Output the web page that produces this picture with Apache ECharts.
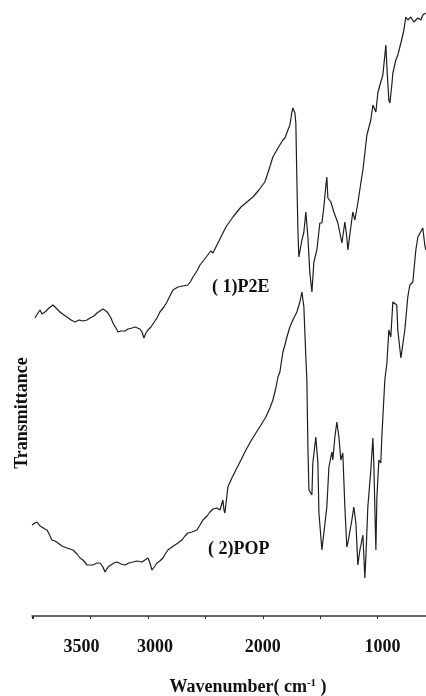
<!DOCTYPE html>
<html>
<head>
<meta charset="utf-8">
<script src="https://cdn.jsdelivr.net/npm/echarts@6/dist/echarts.min.js"></script>
<style>
html,body{margin:0;padding:0;background:#fff;overflow:hidden;}
#chart{width:426px;height:696px;}
</style>
</head>
<body>
<div id="chart"></div>
<script>
// Wavenumber axis tick labels (cm-1)
const tickLabels = [3500, 3000, 2000, 1000];

// (1) P2E spectrum: wavenumber (cm-1) and transmittance (a.u.)
const p2eWavenumber = [3984,3958,3940,3923,3897,3862,3827,3792,3766,3731,3705,3670,3636,3601,3566,3531,3505,3470,3444,3418,3392,3366,3348,3322,3305,3279,3261,3235,3200,3174,3139,3113,3096,3070,3052,3035,3018,3000,2974,2957,2922,2896,2861,2835,2809,2782,2739,2696,2652,2626,2608,2574,2547,2513,2486,2452,2434,2408,2365,2321,2260,2190,2138,2086,2034,1982,1947,1912,1868,1825,1807,1781,1764,1746,1738,1720,1712,1703,1694,1686,1659,1642,1625,1607,1590,1572,1555,1529,1503,1485,1468,1450,1442,1433,1407,1381,1346,1311,1285,1268,1259,1233,1216,1198,1172,1146,1128,1093,1059,1041,1015,998,980,954,928,919,902,893,876,867,841,824,797,771,754,737,711,684,649,623,606,580];
const p2eTransmittance = [298,303,306,302,304,308,311,307,304,301,299,296,294,296,295,296,298,300,303,305,307,305,303,298,293,288,284,285,285,287,288,289,290,287,284,278,283,286,289,291,298,304,309,314,320,326,329,330,331,335,339,345,351,356,360,365,363,369,379,389,399,409,414,419,426,434,446,459,468,476,478,486,491,504,508,503,493,436,386,359,376,384,404,379,343,324,354,366,393,393,409,431,439,418,414,404,393,373,394,379,366,389,404,396,413,433,446,481,496,511,504,523,531,541,571,549,516,513,531,543,556,561,573,586,599,596,599,594,598,596,601,603];

// (2) POP spectrum: wavenumber (cm-1) and transmittance (a.u.)
const popWavenumber = [4010,3984,3966,3940,3923,3897,3879,3853,3836,3810,3784,3749,3705,3679,3653,3618,3592,3566,3531,3505,3479,3444,3418,3392,3374,3348,3331,3296,3270,3235,3200,3166,3131,3096,3052,3026,3000,2983,2965,2939,2922,2896,2870,2844,2826,2791,2765,2739,2704,2678,2652,2617,2574,2547,2521,2486,2460,2434,2399,2373,2365,2347,2338,2330,2312,2304,2269,2234,2190,2147,2103,2060,2016,1973,1938,1912,1886,1868,1851,1825,1807,1790,1764,1738,1703,1677,1659,1642,1625,1616,1607,1598,1572,1564,1538,1520,1511,1485,1477,1442,1424,1398,1390,1372,1355,1337,1320,1303,1285,1268,1259,1224,1207,1189,1172,1154,1128,1111,1102,1085,1059,1041,1033,1015,1006,989,972,963,937,919,902,885,867,833,824,797,780,763,737,719,693,667,649,632,606,589,580];
const popTransmittance = [91,93,94,90,88,87,86,80,76,75,73,70,68,67,66,62,58,56,51,51,51,53,53,49,44,49,51,53,54,52,51,53,54,55,54,56,58,53,46,50,53,55,58,63,66,69,71,73,76,80,83,84,86,91,96,100,104,107,108,106,108,116,106,103,121,129,138,146,156,166,175,183,191,199,208,216,228,239,244,264,271,279,289,296,304,314,324,309,259,236,169,126,121,153,179,153,103,66,74,109,149,164,156,179,194,179,156,163,109,69,73,96,109,93,51,66,81,38,59,109,146,178,153,66,119,156,153,179,236,253,286,279,314,311,286,258,258,286,319,331,334,366,379,380,388,371,366];

const seriesLabels = ['( 1)P2E', '( 2)POP'];

function pairs(xs, ys) { return xs.map((x, i) => [x, ys[i]]); }

const serif = '"Liberation Serif", "DejaVu Serif", serif';
const chart = echarts.init(document.getElementById('chart'), null, {renderer: 'canvas'});

const labelRich = {
  l: {fontFamily: serif, fontWeight: 'bold', fontSize: 18, color: '#111', padding: [0, 18, 0, 0]},
  r: {fontFamily: serif, fontWeight: 'bold', fontSize: 18, color: '#111', padding: [0, 0, 0, 14]},
  c: {fontFamily: serif, fontWeight: 'bold', fontSize: 18, color: '#111'},
  q: {fontFamily: serif, fontWeight: 'bold', fontSize: 18, color: '#111', padding: [0, 0, 0, 10]}
};
const labelStyleKey = {3500: 'l', 3000: 'r', 2000: 'c', 1000: 'q'};

chart.setOption({
  animation: false,
  backgroundColor: '#fff',
  grid: {left: 32, width: 403, top: 0, bottom: 80, containLabel: false, outerBoundsMode: 'none'},
  xAxis: {
    type: 'value', min: 500, max: 4010, interval: 500, inverse: true,
    splitLine: {show: false},
    axisLine: {show: true, lineStyle: {color: '#333', width: 1.5}},
    axisTick: {show: true, inside: false, length: 3, lineStyle: {color: '#333', width: 1}},
    axisLabel: {
      margin: 22,
      formatter: v => tickLabels.includes(v) ? '{' + labelStyleKey[v] + '|' + v + '}' : '',
      rich: labelRich
    }
  },
  yAxis: {type: 'value', min: 0, max: 616, show: false},
  series: [
    {type: 'line', name: seriesLabels[0], data: pairs(p2eWavenumber, p2eTransmittance),
     showSymbol: false, lineStyle: {color: '#1e1e1e', width: 1.2}, silent: true},
    {type: 'line', name: seriesLabels[1], data: pairs(popWavenumber, popTransmittance),
     showSymbol: false, lineStyle: {color: '#1e1e1e', width: 1.2}, silent: true}
  ],
  graphic: [
    {type: 'text', left: 212, top: 278, style: {text: seriesLabels[0], font: 'bold 18px ' + serif, fill: '#111'}},
    {type: 'text', left: 208, top: 540, style: {text: seriesLabels[1], font: 'bold 18px ' + serif, fill: '#111'}},
    {type: 'text', x: 22, y: 413, rotation: Math.PI / 2,
     style: {text: 'Transmittance', font: 'bold 18px ' + serif, fill: '#111', align: 'center', verticalAlign: 'middle'}},
    {type: 'text', x: 248, y: 687,
     style: {
       text: '{a|Wavenumber( cm}{s|-1}{a| )}',
       align: 'center', verticalAlign: 'middle',
       rich: {
         a: {fontFamily: serif, fontWeight: 'bold', fontSize: 18, fill: '#111', color: '#111'},
         s: {fontFamily: serif, fontWeight: 'bold', fontSize: 11, fill: '#111', color: '#111', verticalAlign: 'top', padding: [0, 0, 8, 0]}
       }
     }}
  ]
});
</script>
</body>
</html>
